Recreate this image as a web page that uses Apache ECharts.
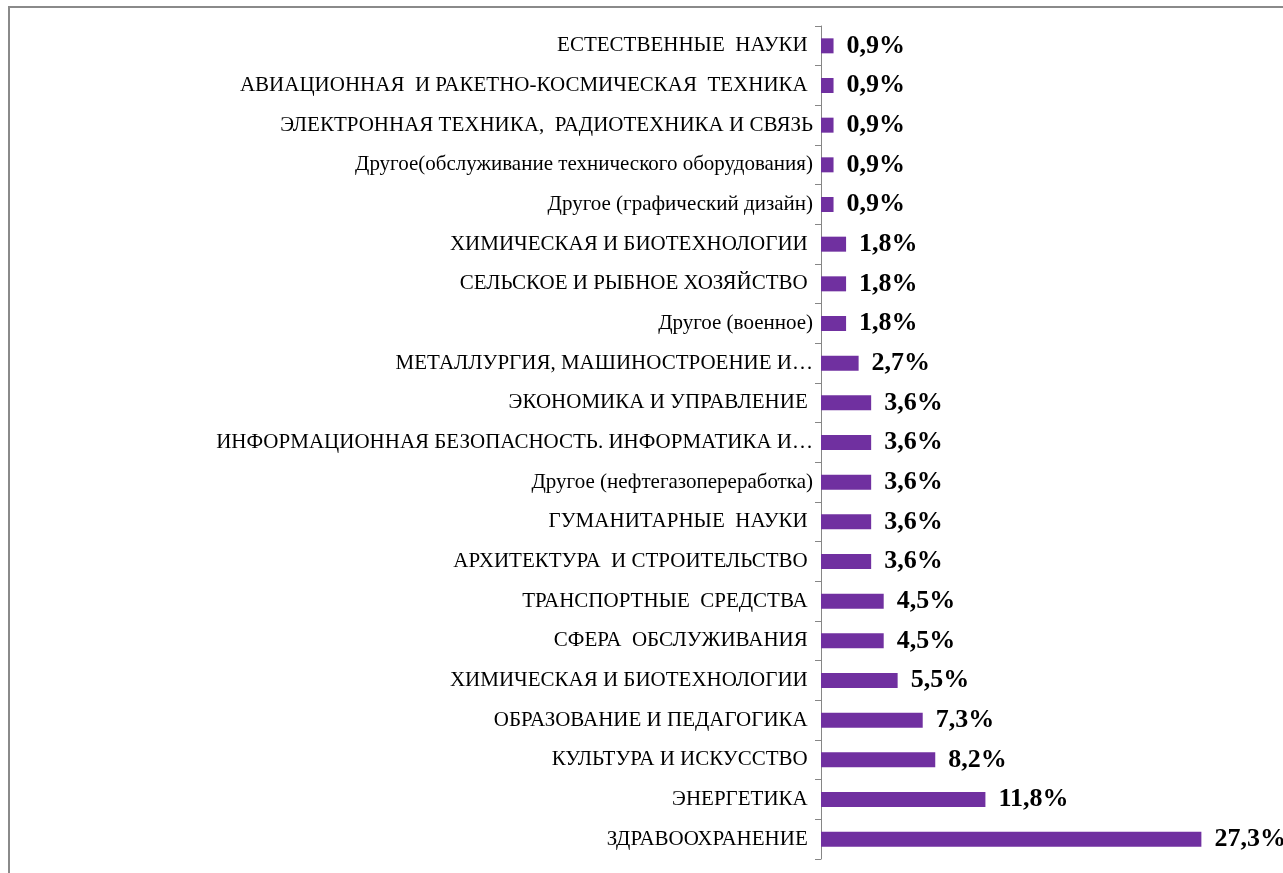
<!DOCTYPE html>
<html>
<head>
<meta charset="utf-8">
<script src="https://cdn.jsdelivr.net/npm/echarts@6/dist/echarts.min.js"></script>
<style>
  html, body { margin: 0; padding: 0; background: #fff; }
  #chart { width: 1283px; height: 873px; }
</style>
</head>
<body>
<div id="chart"></div>
<script>
// top to bottom, as in the picture (trailing spaces kept as in the source labels)
const categories = [
  'ЕСТЕСТВЕННЫЕ  НАУКИ ',
  'АВИАЦИОННАЯ  И РАКЕТНО-КОСМИЧЕСКАЯ  ТЕХНИКА ',
  'ЭЛЕКТРОННАЯ ТЕХНИКА,  РАДИОТЕХНИКА И СВЯЗЬ',
  'Другое(обслуживание технического оборудования)',
  'Другое (графический дизайн)',
  'ХИМИЧЕСКАЯ И БИОТЕХНОЛОГИИ ',
  'СЕЛЬСКОЕ И РЫБНОЕ ХОЗЯЙСТВО ',
  'Другое (военное)',
  'МЕТАЛЛУРГИЯ, МАШИНОСТРОЕНИЕ И…',
  'ЭКОНОМИКА И УПРАВЛЕНИЕ ',
  'ИНФОРМАЦИОННАЯ БЕЗОПАСНОСТЬ. ИНФОРМАТИКА И…',
  'Другое (нефтегазопереработка)',
  'ГУМАНИТАРНЫЕ  НАУКИ ',
  'АРХИТЕКТУРА  И СТРОИТЕЛЬСТВО ',
  'ТРАНСПОРТНЫЕ  СРЕДСТВА ',
  'СФЕРА  ОБСЛУЖИВАНИЯ ',
  'ХИМИЧЕСКАЯ И БИОТЕХНОЛОГИИ ',
  'ОБРАЗОВАНИЕ И ПЕДАГОГИКА ',
  'КУЛЬТУРА И ИСКУССТВО ',
  'ЭНЕРГЕТИКА ',
  'ЗДРАВООХРАНЕНИЕ '
];
const shares = [0.9, 0.9, 0.9, 0.9, 0.9, 1.8, 1.8, 1.8, 2.7, 3.6, 3.6, 3.6, 3.6, 3.6, 4.5, 4.5, 5.5, 7.3, 8.2, 11.8, 27.3];

const chart = echarts.init(document.getElementById('chart'));
chart.setOption({
  animation: false,
  graphic: [{
    type: 'rect',
    shape: { x: 9, y: 7, width: 1300, height: 900 },
    style: { fill: 'none', stroke: '#8a8a8a', lineWidth: 2 },
    silent: true
  }],
  grid: { left: 821, right: 44, top: 26, bottom: 14 },
  xAxis: {
    type: 'value',
    min: 0,
    max: 30,
    show: false
  },
  yAxis: {
    type: 'category',
    inverse: true,
    data: categories,
    axisLine: { lineStyle: { color: '#868686', width: 1 } },
    axisTick: { show: true, length: 6, lineStyle: { color: '#868686', width: 1 } },
    axisLabel: {
      margin: 8,
      color: '#000',
      fontFamily: '"Liberation Serif", "DejaVu Serif", serif',
      fontSize: 21
    }
  },
  series: [{
    type: 'bar',
    data: shares,
    barWidth: 15,
    itemStyle: { color: '#7030a0' },
    label: {
      show: true,
      position: 'right',
      distance: 13,
      color: '#000',
      fontFamily: '"Liberation Serif", "DejaVu Serif", serif',
      fontWeight: 'bold',
      fontSize: 26,
      formatter: p => p.value.toFixed(1).replace('.', ',') + '%'
    }
  }]
});
</script>
</body>
</html>
